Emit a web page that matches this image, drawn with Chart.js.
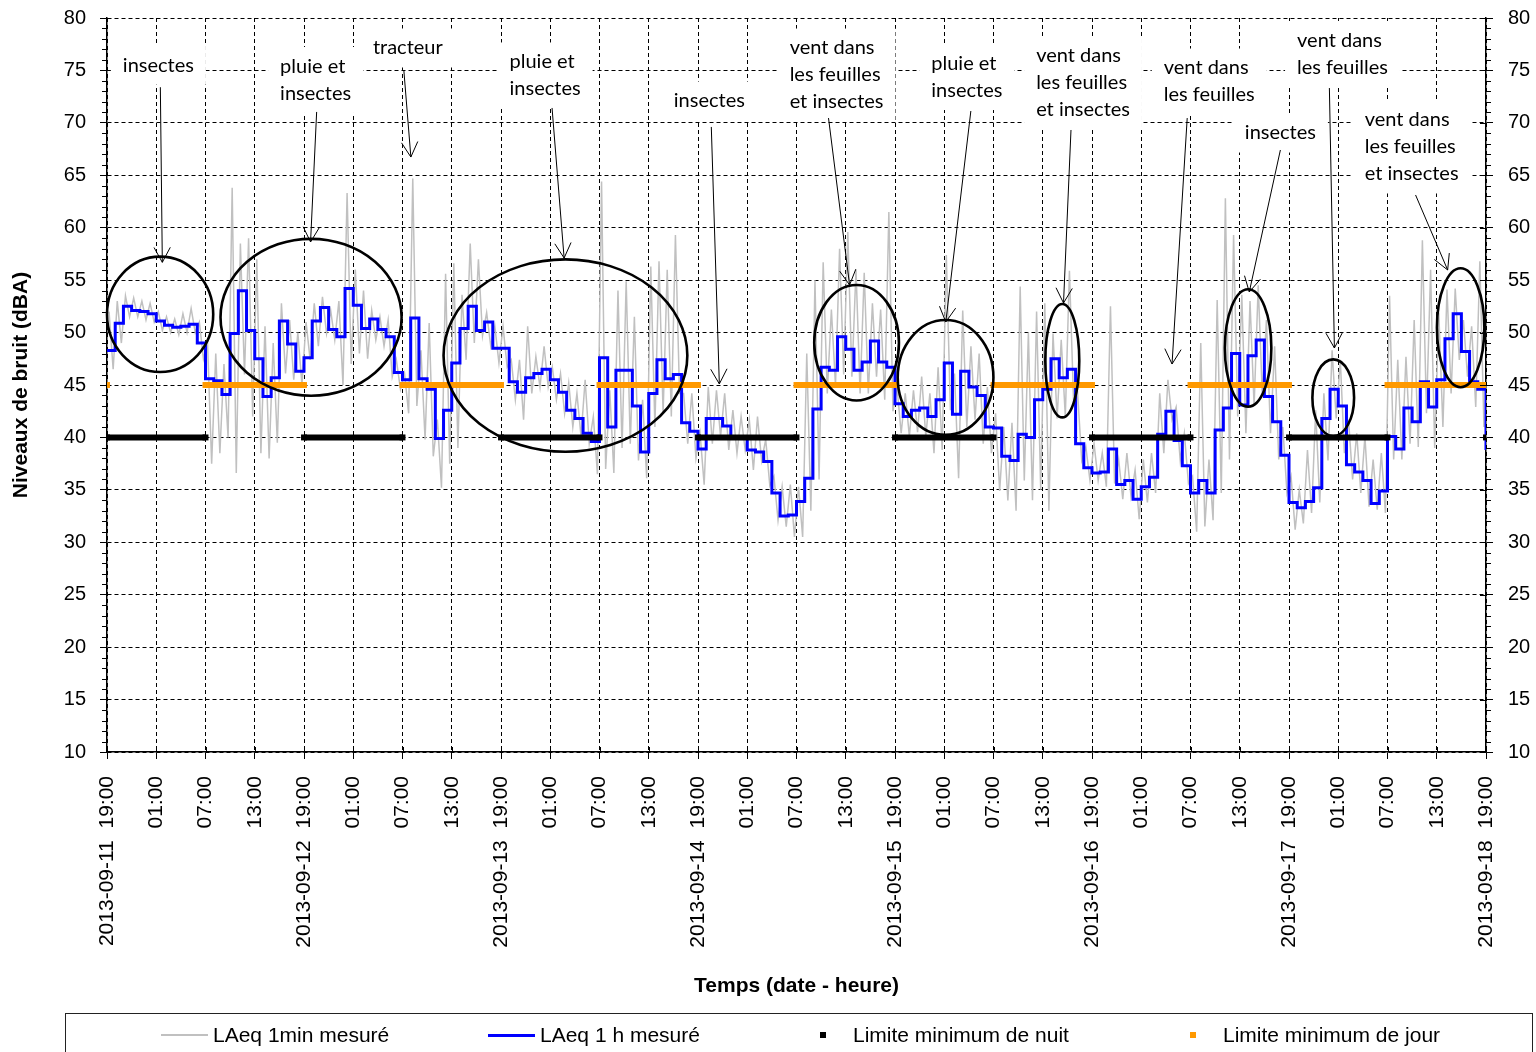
<!DOCTYPE html>
<html lang="fr">
<head>
<meta charset="utf-8">
<title>Niveaux de bruit</title>
<script src="https://cdn.jsdelivr.net/npm/chart.js@4.4.1/dist/chart.umd.min.js"></script>
<style>
  html, body { margin: 0; padding: 0; background: #fff; }
  #wrap { position: relative; width: 1536px; height: 1052px; overflow: hidden; }
  #legend { position: absolute; left: 65px; top: 1013px; width: 1466px; height: 60px;
            border: 1px solid #222; font: 21px "Liberation Sans", Arial, sans-serif; color: #000; }
  .item { position: absolute; top: 8px; height: 26px; display: flex; align-items: center; white-space: nowrap; }
  .sym { display: inline-block; }
</style>
</head>
<body>
<div id="wrap">
  <canvas id="chart" width="1536" height="1052"></canvas>
  <div id="legend"></div>
</div>
<script>
// hourly LAeq, one value per hour from 2013-09-11 19:00 (last value = 2013-09-18 19:00)
const laeq1h = [
  48.3, 50.9, 52.5, 52.1, 52.0, 51.8, 51.1, 50.7, 50.5, 50.6, 50.8, 49.0,
  45.6, 45.4, 44.1, 49.9, 54.0, 50.2, 47.5, 43.9, 45.7, 51.1, 48.9, 46.3,
  47.6, 51.1, 52.4, 50.3, 49.6, 54.2, 52.6, 50.4, 51.3, 50.3, 49.6, 46.2,
  45.5, 51.4, 45.6, 44.6, 39.9, 42.6, 47.1, 50.4, 52.5, 50.2, 51.0, 48.5,
  48.5, 45.3, 44.3, 45.7, 46.1, 46.5, 45.5, 44.3, 42.6, 41.8, 40.4, 39.6,
  47.6, 41.0, 46.4, 46.4, 43.0, 38.6, 44.2, 47.4, 45.6, 46.0, 41.4, 40.6,
  38.9, 41.8, 41.8, 41.1, 40.0, 39.9, 38.8, 38.6, 37.7, 34.7, 32.5, 32.6,
  33.9, 36.1, 42.7, 46.7, 46.4, 49.6, 48.4, 46.4, 47.2, 49.2, 47.2, 46.7,
  43.2, 42.0, 42.6, 42.8, 42.0, 43.6, 47.1, 42.2, 46.3, 44.8, 44.0, 41.0,
  40.9, 38.2, 37.8, 40.3, 40.0, 43.6, 44.6, 47.5, 45.7, 46.5, 39.4, 37.1,
  36.6, 36.7, 38.9, 35.5, 35.9, 34.1, 35.3, 36.2, 40.3, 42.5, 39.7, 37.3,
  34.7, 35.9, 34.7, 40.7, 42.8, 48.0, 43.1, 47.8, 49.3, 43.9, 41.5, 38.3,
  33.8, 33.3, 33.9, 35.2, 41.8, 44.6, 43.0, 37.4, 36.7, 35.9, 33.7, 34.9,
  40.1, 38.9, 42.8, 41.5, 45.3, 42.9, 45.5, 49.4, 51.8, 48.2, 45.3, 44.6,
  38.8
];

// 1 min LAeq, read per hour as upper and lower envelope
const greyHigh = [
  52, 53, 53.5, 53.3, 53, 52.8, 52, 51.5, 51.3, 51.8, 52.3, 51,
  49, 48, 47, 63.8, 58.5, 59, 57, 50.6, 49, 52.8, 51.2, 50,
  51, 52.8, 53.4, 52.1, 53, 63.3, 56, 54, 52.1, 51.5, 51.2, 47.4,
  46.1, 64.7, 48.3, 50.9, 41.7, 55.6, 56.6, 53.6, 58.5, 57, 51.9, 50.6,
  50.6, 47.4, 47.4, 50.6, 47.7, 48.7, 46.7, 46.1, 45.2, 44.2, 45.5, 42,
  64.4, 44.5, 54, 54.9, 51.5, 43.6, 56.3, 56.8, 56, 59.3, 44.2, 44.2,
  40.4, 44.8, 44.5, 44.2, 42.6, 42, 41.7, 42, 39.8, 36.3, 35.3, 35.5,
  35.3, 48, 55, 56.7, 52.2, 58, 59.6, 56, 55.7, 52.8, 52.2, 61.5,
  44.8, 44.2, 44.5, 45.8, 44.2, 46.7, 57.4, 46.1, 52.1, 48.7, 48, 44.8,
  42.3, 41, 41.4, 54.4, 50, 52, 52.8, 49.9, 49.3, 55.9, 44.2, 39.1,
  39.4, 38.5, 52.5, 37.9, 38.5, 36.9, 37.9, 38.5, 44.2, 45.5, 42.9, 40.4,
  36.3, 49, 37.9, 53.1, 62.8, 59.3, 53.6, 53, 54.5, 51.2, 48.7, 41,
  36.3, 35, 38.8, 42.6, 44.2, 48.3, 47.4, 41.7, 40.4, 40.1, 37.9, 38.5,
  53.5, 47.4, 47.7, 51.2, 58.8, 56, 51.9, 54.1, 54.2, 51.2, 50.6, 56.8
];
const greyLow = [
  46.5, 49, 51.5, 51.5, 51.2, 51, 50.2, 50, 49.8, 50, 50, 47.5,
  37.5, 38.5, 40, 36.6, 46, 42, 38.5, 38, 39.5, 46.1, 45.5, 45,
  47.4, 48.7, 49.9, 49.3, 45, 47, 48, 47.5, 49.3, 48.7, 45.8, 44.6,
  42.3, 43, 39.8, 38.2, 35.2, 37.5, 39, 47.4, 49, 49.7, 48.7, 47.1,
  46.7, 43.6, 41.7, 44.2, 44.8, 44.8, 43.6, 42.3, 41, 40.1, 39.4, 36.5,
  37, 36.6, 39, 39.4, 37.8, 36.1, 41, 42.3, 42, 44.2, 39.4, 38,
  35.5, 39.4, 40.1, 38.8, 38.5, 38.8, 36.9, 37.8, 35.4, 32.1, 31.5, 30.5,
  30.5, 33, 36, 44.2, 45, 46, 45.8, 44.2, 44.2, 45.8, 43.6, 42.5,
  40.4, 40.1, 40.5, 40.1, 38.5, 38.8, 42.6, 36.1, 41, 41.7, 39.4, 38.5,
  34.9, 34, 33, 35.9, 34, 35, 33, 41.8, 42, 43.6, 37.8, 35.9,
  35.9, 35.3, 35.6, 34.1, 34.4, 32.2, 33.8, 34.7, 38.5, 41.7, 37.8, 35.6,
  31, 31.5, 32.1, 34.7, 37.9, 42, 40.4, 43, 44, 40.4, 37.9, 34.7,
  31.2, 31.8, 32.8, 33.8, 37.8, 41.8, 38.5, 36, 34.7, 33.4, 33.1, 32.8,
  37.9, 37.9, 39.4, 39.1, 42.3, 39, 41, 44.2, 47.4, 45.8, 42.9, 41
];

// limits (hours from start)
const nightLimit = 40;
const dayLimit = 45;
const nightPeriods = [[0, 12], [24, 36], [48, 60], [72, 84], [96, 108], [120, 132], [144, 156], [168, 168]];
const dayPeriods = [[0, 0], [12, 24], [36, 48], [60, 72], [84, 96], [108, 120], [132, 144], [156, 168]];

// tick labels
const dayLabels = ['2013-09-11', '2013-09-12', '2013-09-13', '2013-09-14', '2013-09-15', '2013-09-16', '2013-09-17', '2013-09-18'];
const hourLabels = ['19:00', '01:00', '07:00', '13:00'];

// notes: text block centre, arrow, ellipse [cx, cy, rx(h), ry(dB)]
const notes = [
  { lines: ['insectes'], at: [6.26, 75.5], from: [6.5, 73.4], to: [6.74, 56.7], ring: [6.47, 51.74, 6.47, 5.5] },
  { lines: ['pluie et', 'insectes'], at: [25.42, 74.09], from: [25.54, 71.04], to: [24.8, 58.64], ring: [24.86, 51.46, 11.03, 7.48] },
  { lines: ['tracteur'], at: [36.65, 77.14], from: [36.16, 75.04], to: [37.02, 66.74] },
  { lines: ['pluie et', 'insectes'], at: [53.37, 74.52], from: [54.22, 71.42], to: [55.69, 57.11], ring: [55.85, 47.81, 14.85, 9.17] },
  { lines: ['insectes'], at: [73.38, 72.08], from: [73.62, 69.61], to: [74.6, 45.1] },
  { lines: ['vent dans', 'les feuilles', 'et insectes'], at: [88.88, 74.56], from: [87.9, 70.46], to: [90.47, 54.54], ring: [91.32, 49.03, 5.16, 5.51] },
  { lines: ['pluie et', 'insectes'], at: [104.75, 74.37], from: [105.24, 71.13], to: [102.19, 51.01], ring: [102.16, 45.72, 5.83, 5.48] },
  { lines: ['vent dans', 'les feuilles', 'et insectes'], at: [118.91, 73.8], from: [117.44, 69.32], to: [116.53, 52.82], ring: [116.38, 47.32, 2.07, 5.41] },
  { lines: ['vent dans', 'les feuilles'], at: [134.28, 73.94], from: [131.6, 70.46], to: [129.75, 47.0] },
  { lines: ['insectes'], at: [142.95, 69.03], from: [142.95, 67.41], to: [139.16, 53.87], ring: [139.02, 48.53, 2.83, 5.6] },
  { lines: ['vent dans', 'les feuilles'], at: [150.52, 76.57], from: [148.92, 73.32], to: [149.53, 48.53], ring: [149.39, 43.79, 2.54, 3.65] },
  { lines: ['vent dans', 'les feuilles', 'et insectes'], at: [158.94, 67.7], from: [159.42, 63.12], to: [163.33, 55.97], ring: [164.91, 50.46, 2.89, 5.67] }
];

const FONT = '"Liberation Sans", Arial, sans-serif';
const NOTE_FONT = '20px Lato, "Open Sans", sans-serif';
const NOTE_LH = 27;

const greyPts = [];
greyHigh.forEach((v, h) => {
  greyPts.push({ x: h + 0.25, y: v });
  greyPts.push({ x: h + 0.75, y: greyLow[h] });
});
const bluePts = laeq1h.map((v, h) => ({ x: h, y: v }));

function periodPoints(periods, level) {
  const pts = [];
  periods.forEach(([a, b]) => {
    pts.push({ x: a, y: level });
    if (b !== a) pts.push({ x: b, y: level });
    pts.push({ x: b, y: null });
  });
  return pts;
}

function notePx(chart, p) {
  return [chart.scales.x.getPixelForValue(p[0]), chart.scales.y.getPixelForValue(p[1])];
}

function noteBox(ctx, chart, n) {
  ctx.font = NOTE_FONT;
  const w = Math.max(...n.lines.map(l => ctx.measureText(l).width));
  const h = n.lines.length * NOTE_LH;
  const [cx, cy] = notePx(chart, n.at);
  return { x: cx - w / 2, y: cy - h / 2, w, h };
}

const notesPlugin = {
  id: 'notes',
  beforeDatasetsDraw(chart) {
    const ctx = chart.ctx;
    ctx.save();
    ctx.fillStyle = '#fff';
    notes.forEach(n => {
      const b = noteBox(ctx, chart, n);
      ctx.fillRect(b.x - 12, b.y - 6, b.w + 24, b.h + 12);
    });
    ctx.restore();
  },
  afterDatasetsDraw(chart) {
    const ctx = chart.ctx;
    ctx.save();
    notes.forEach(n => {
      const b = noteBox(ctx, chart, n);
      ctx.fillStyle = '#000';
      ctx.textAlign = 'left';
      ctx.textBaseline = 'middle';
      n.lines.forEach((l, i) => ctx.fillText(l, b.x, b.y + NOTE_LH * (i + 0.5)));

      // arrow
      const [x0, y0] = notePx(chart, n.from);
      const [x1, y1] = notePx(chart, n.to);
      ctx.strokeStyle = '#000';
      ctx.lineWidth = 1;
      ctx.beginPath();
      ctx.moveTo(x0, y0);
      ctx.lineTo(x1, y1);
      const ang = Math.atan2(y1 - y0, x1 - x0);
      [0.5, -0.5].forEach(d => {
        ctx.moveTo(x1, y1);
        ctx.lineTo(x1 - 17 * Math.cos(ang + d), y1 - 17 * Math.sin(ang + d));
      });
      ctx.stroke();

      if (n.ring) {
        const [cx, cy] = notePx(chart, n.ring);
        const rx = chart.scales.x.getPixelForValue(n.ring[0] + n.ring[2]) - cx;
        const ry = cy - chart.scales.y.getPixelForValue(n.ring[1] + n.ring[3]);
        ctx.lineWidth = 2.6;
        ctx.beginPath();
        ctx.ellipse(cx, cy, rx, ry, 0, 0, Math.PI * 2);
        ctx.stroke();
      }
    });
    ctx.restore();
  }
};

const minorTicks = {
  id: 'minorTicks',
  afterDraw(chart) {
    const { ctx, chartArea } = chart;
    const y = chart.scales.y, x = chart.scales.x;
    ctx.save();
    ctx.strokeStyle = '#000';
    ctx.lineWidth = 1;
    ctx.beginPath();
    for (let v = 10; v <= 80; v++) {
      const py = Math.round(y.getPixelForValue(v)) + 0.5;
      if (v % 5) {
        ctx.moveTo(chartArea.left - 5, py); ctx.lineTo(chartArea.left, py);
        ctx.moveTo(chartArea.right, py); ctx.lineTo(chartArea.right + 5, py);
      } else {
        ctx.moveTo(chartArea.right - 6, py); ctx.lineTo(chartArea.right, py);
      }
    }
    for (let h = 0; h <= 168; h += 6) {
      const px = Math.round(x.getPixelForValue(h)) + 0.5;
      ctx.moveTo(px, chartArea.bottom - 5); ctx.lineTo(px, chartArea.bottom);
    }
    ctx.stroke();
    ctx.restore();
  }
};

function fitVertical(width) {
  return s => {
    s.width = width;
    s.paddingTop = 0;
    s.paddingBottom = 0;
  };
}

const chart = new Chart(document.getElementById('chart'), {
  type: 'line',
  data: {
    datasets: [
      { label: 'LAeq 1min mesuré', data: greyPts, borderColor: '#c0c0c0', borderWidth: 1.5,
        pointRadius: 0, order: 4 },
      { label: 'LAeq 1 h mesuré', data: bluePts, borderColor: '#0000ff', borderWidth: 3,
        stepped: 'before', pointRadius: 0, order: 3 },
      { label: 'Limite minimum de nuit', data: periodPoints(nightPeriods, nightLimit),
        borderColor: '#000', backgroundColor: '#000', borderWidth: 6, borderCapStyle: 'butt',
        pointStyle: 'rect', pointRadius: 4.2, pointBorderWidth: 0, order: 2 },
      { label: 'Limite minimum de jour', data: periodPoints(dayPeriods, dayLimit),
        borderColor: '#ff9900', backgroundColor: '#ff9900', borderWidth: 6, borderCapStyle: 'butt',
        pointStyle: 'rect', pointRadius: 4.2, pointBorderWidth: 0, order: 1 }
    ]
  },
  options: {
    responsive: false,
    animation: false,
    devicePixelRatio: 1,
    layout: { padding: { top: 18, bottom: 47, left: 0, right: 0 } },
    plugins: { legend: { display: false }, tooltip: { enabled: false } },
    scales: {
      x: {
        type: 'linear', position: 'bottom', min: 0, max: 168,
        ticks: {
          stepSize: 6, autoSkip: false, minRotation: 90, maxRotation: 90, padding: 17,
          color: '#000', font: { family: FONT, size: 21 },
          callback: v => {
            const k = Math.round(v / 6);
            return k % 4 === 0 ? dayLabels[k / 4] + '  ' + hourLabels[0] : hourLabels[k % 4];
          }
        },
        grid: { color: '#000', lineWidth: 1, tickLength: 7 },
        border: { color: '#000', width: 1.5, dash: [4, 3] },
        title: { display: true, text: 'Temps (date - heure)', color: '#000',
                 font: { family: FONT, size: 21, weight: 'bold' }, padding: { top: 0, bottom: 6 } },
        afterFit: s => { s.height = 253; }
      },
      y: {
        position: 'left', min: 10, max: 80,
        ticks: { stepSize: 5, padding: 14, color: '#000', font: { family: FONT, size: 20 } },
        grid: { color: '#000', lineWidth: 1, tickLength: 7 },
        border: { color: '#000', width: 1.5, dash: [4, 3] },
        title: { display: true, text: 'Niveaux de bruit (dBA)', color: '#000',
                 font: { family: FONT, size: 21, weight: 'bold' }, padding: { top: 9, bottom: 0 } },
        afterFit: fitVertical(107)
      },
      y2: {
        position: 'right', min: 10, max: 80,
        ticks: { stepSize: 5, padding: 15, color: '#000', font: { family: FONT, size: 20 } },
        grid: { drawOnChartArea: false, color: '#000', tickLength: 7 },
        border: { color: '#000', width: 1.5 },
        afterFit: fitVertical(50)
      }
    }
  },
  plugins: [notesPlugin, minorTicks]
});

// legend in a framed box under the chart
const legendLeft = [95, 422, 754, 1124];
const legendEl = document.getElementById('legend');
chart.data.datasets.forEach((ds, i) => {
  const item = document.createElement('div');
  item.className = 'item';
  item.style.left = legendLeft[i] + 'px';
  const sym = document.createElement('span');
  sym.className = 'sym';
  if (ds.pointStyle === 'rect') {
    sym.style.cssText = 'width:6px;height:6px;margin-right:27px;background:' + ds.borderColor;
  } else {
    sym.style.cssText = 'width:47px;height:' + Math.max(2, ds.borderWidth) + 'px;margin-right:5px;background:' + ds.borderColor;
  }
  item.appendChild(sym);
  item.appendChild(document.createTextNode(ds.label));
  legendEl.appendChild(item);
});
</script>
</body>
</html>
